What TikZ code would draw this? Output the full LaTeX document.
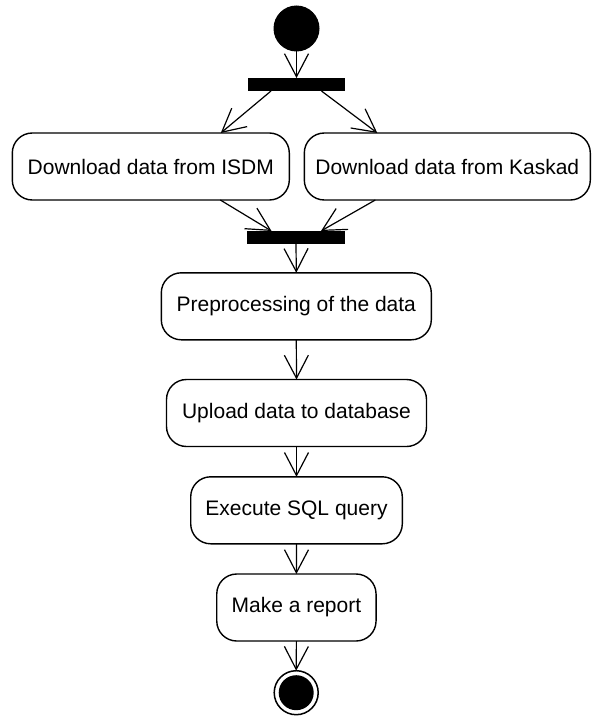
\documentclass[tikz,border=0pt]{standalone}
\usepackage{fontspec}
\setmainfont{Liberation Sans}
\usetikzlibrary{arrows.meta}
\tikzset{
  act/.style={draw, rectangle, rounded corners=20pt, line width=1.4pt, fill=white,
    inner sep=0pt, outer sep=0pt, minimum height=67pt, font=\fontsize{21}{24}\selectfont},
  bar/.style={fill=black, rectangle, inner sep=0pt, outer sep=0pt, minimum width=97pt, minimum height=13pt},
  flow/.style={line width=1.2pt, -{Straight Barb[length=23pt, width=24pt, line width=1.2pt]}},
}
\begin{document}
\begin{tikzpicture}[x=1pt, y=-1pt]
\useasboundingbox (0,0) rectangle (592,717);
\node[circle, fill=black, inner sep=0pt, outer sep=0pt, minimum size=46pt] (init) at (296.5,28.5) {};
\node[bar] (fork) at (296.5,84.5) {};
\node[act, minimum width=277pt] (b1) at (150.8,166.5) {Download data from ISDM};
\node[act, minimum width=286pt] (b2) at (447.3,166.5) {Download data from Kaskad};
\node[bar, minimum width=98pt] (join) at (296,237.5) {};
\node[act, minimum width=270pt] (b3) at (296.3,306.3) {Preprocessing of the data};
\node[act, minimum width=260pt] (b4) at (296.5,413) {Upload data to database};
\node[act, minimum width=211.6pt] (b5) at (296.5,510.3) {Execute SQL query};
\node[act, minimum width=159.3pt] (b6) at (296.4,607.5) {Make a report};
\node[circle, draw, line width=1.5pt, fill=white, inner sep=0pt, outer sep=0pt, minimum size=44pt] (final) at (296.2,692.7) {};
\fill (final.center) circle (17.5pt);

\draw[flow] (init.south) -- (fork.north);
\draw[flow] ([xshift=-25.5pt]fork.south) -- ([xshift=70pt]b1.north);
\draw[flow] ([xshift=25pt]fork.south) -- ([xshift=-70pt]b2.north);
\draw[flow] ([xshift=69.5pt]b1.south) -- ([xshift=-24.5pt]join.north);
\draw[flow] ([xshift=-72pt]b2.south) -- ([xshift=25pt]join.north);
\draw[flow] (join.south) -- (b3.north);
\draw[flow] (b3.south) -- (b4.north);
\draw[flow] (b4.south) -- (b5.north);
\draw[flow] (b5.south) -- (b6.north);
\draw[flow] (b6.south) -- (final.north);
\end{tikzpicture}
\end{document}
